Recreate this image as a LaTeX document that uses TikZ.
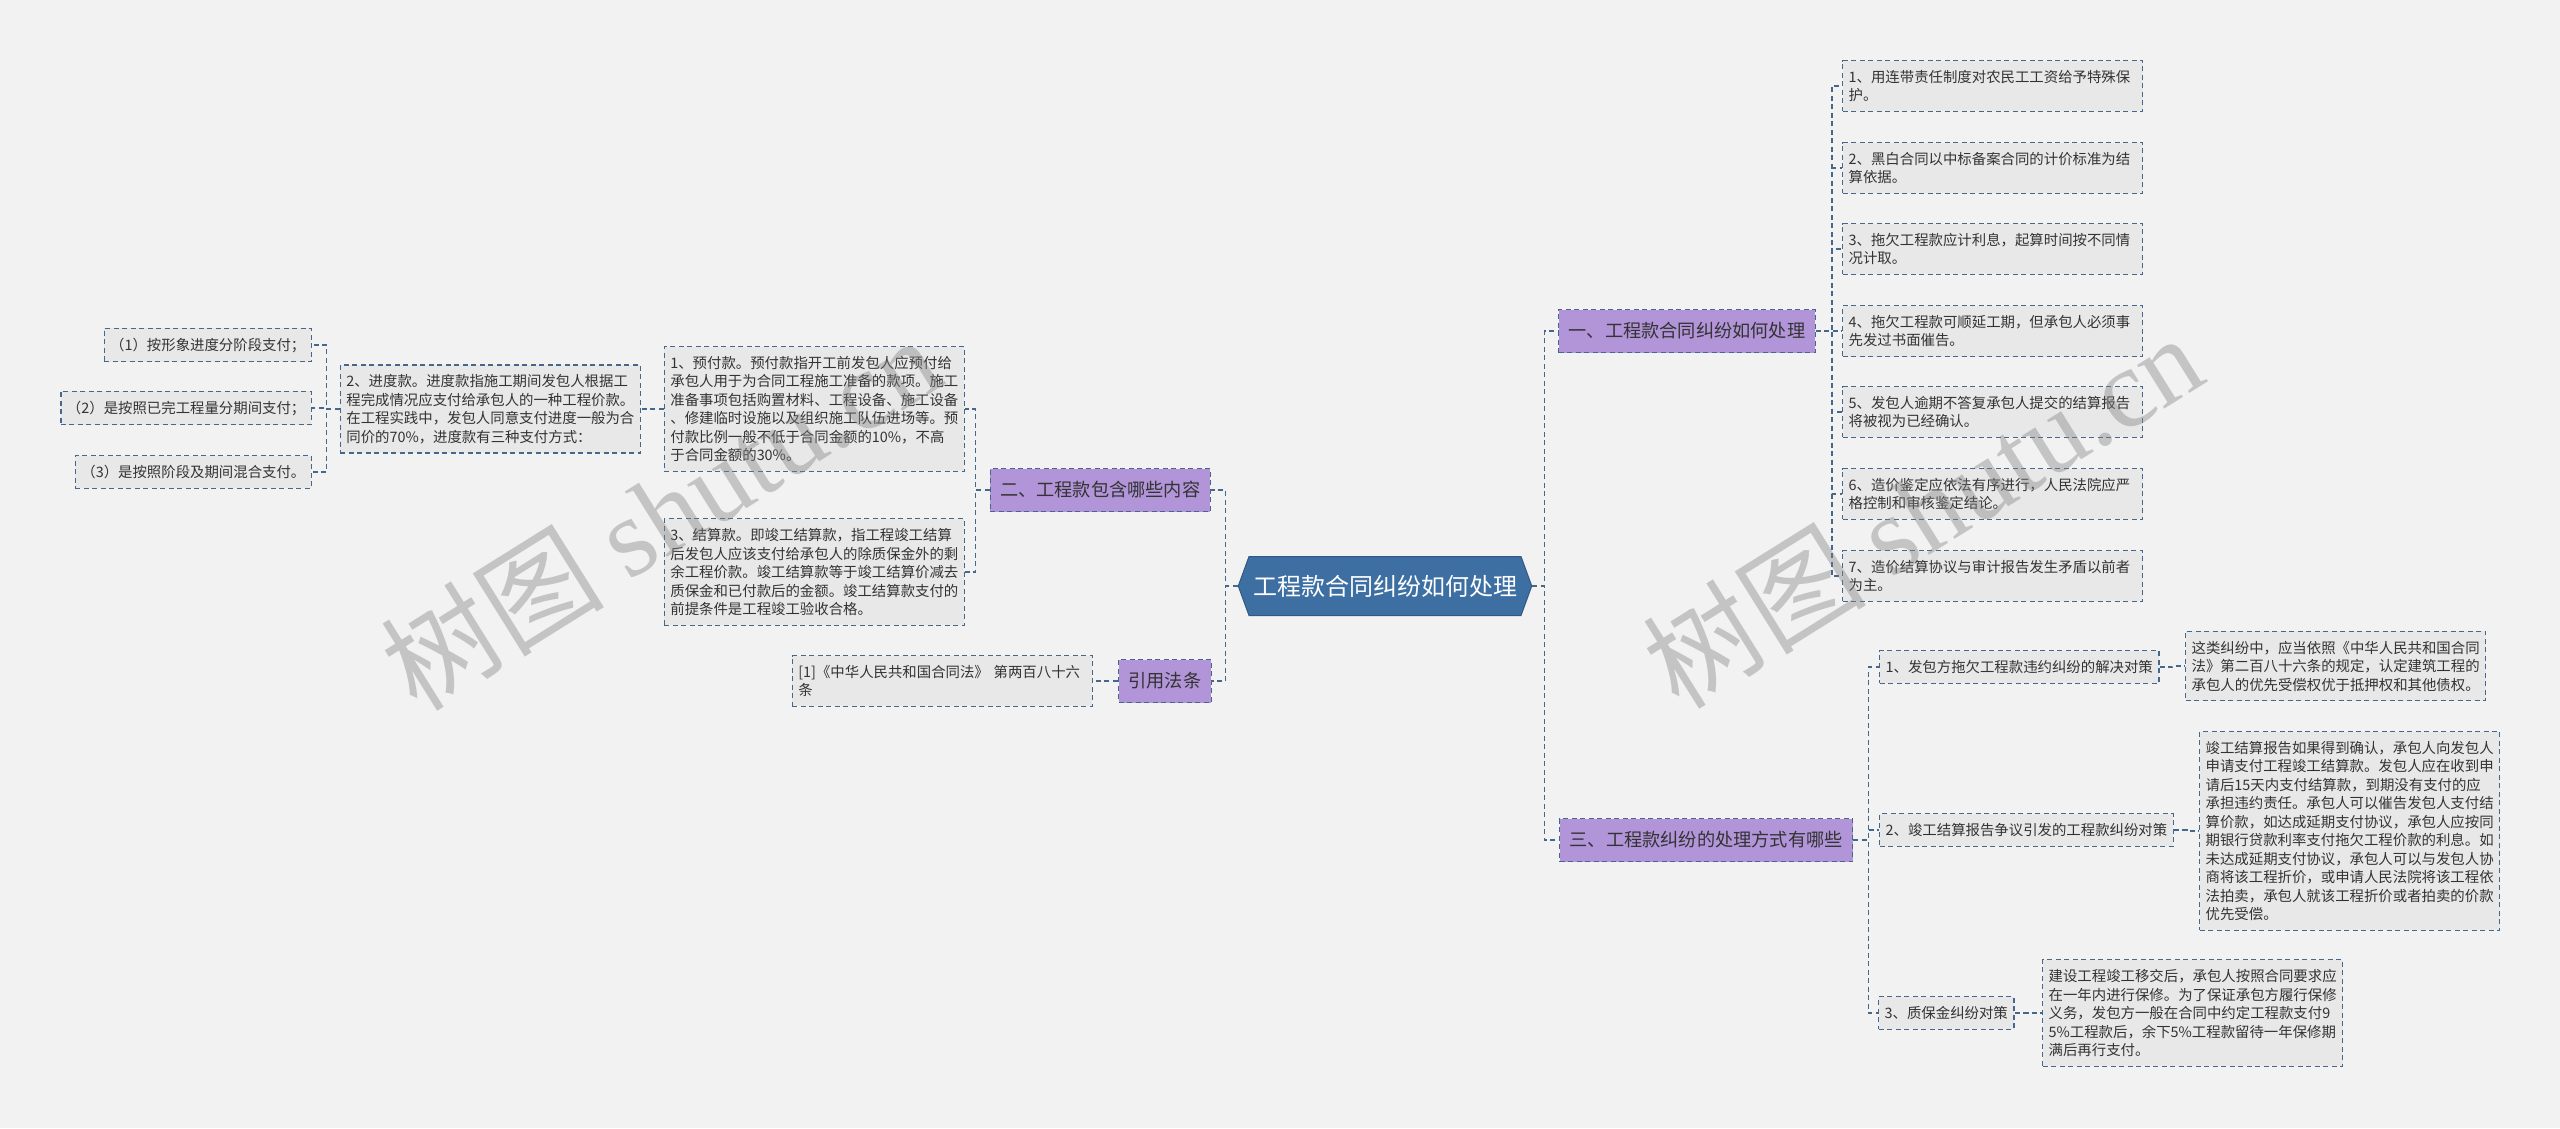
\documentclass[tikz,border=0pt]{standalone}
\usepackage{fontspec}
\setmainfont{Noto Sans CJK SC}
\newfontfamily\wmlatin{Liberation Serif}
\usepackage{tikz}
\usetikzlibrary{shapes.symbols}

\definecolor{bgcolor}{HTML}{F2F2F2}
\definecolor{leafgray}{HTML}{E8E8E8}
\definecolor{linkblue}{HTML}{45678A}
\definecolor{rootblue}{HTML}{3D6FA3}
\definecolor{branchpurple}{HTML}{B294D8}
\definecolor{textgray}{HTML}{333333}

\begin{document}
\begin{tikzpicture}[x=1pt,y=-1pt,
  leaf/.style={draw=linkblue, fill=leafgray, line width=1.3pt, dash pattern=on 5pt off 3.5pt, inner xsep=6pt, inner ysep=9.5pt, text=textgray, font=\fontsize{14.4}{18.5}\selectfont},
  para/.style={leaf, text width=288pt, align=left},
  branch/.style={draw=linkblue, fill=branchpurple, line width=1.3pt, dash pattern=on 5pt off 3.5pt, minimum height=43pt, inner xsep=10pt, inner ysep=0pt, text=textgray, font=\fontsize{18.2}{22}\selectfont},
  rootnode/.style={shape=signal, signal to=east and west, signal pointer angle=140, fill=rootblue, draw=rootblue!80!black, line width=1pt, minimum height=59pt, inner xsep=4pt, text=white, font=\fontsize{24}{28}\selectfont},
  edge/.style={draw=linkblue, line width=1.3pt, dash pattern=on 5pt off 3.5pt},
  watermark/.style={text=gray, text opacity=0.4, font=\fontsize{112}{120}\selectfont}]
\useasboundingbox (0,0) rectangle (2560,1128);
\fill[bgcolor] (0,0) rectangle (2560,1128);

\node (root) [rootnode] at (1385,586) {工程款合同纠纷如何处理};

\node (b1) [branch, anchor=west] at (1558,331) {一、工程款合同纠纷如何处理};
\node (b2) [branch, anchor=east] at (1211,490) {二、工程款包含哪些内容};
\node (b3) [branch, anchor=west] at (1559,840) {三、工程款纠纷的处理方式有哪些};
\node (cite) [branch, anchor=east] at (1212,681) {引用法条};

\node (r1) [para, anchor=west] at (1842,86) {1、用连带责任制度对农民工工资给予特殊保\\护。};
\node (r2) [para, anchor=west] at (1842,168) {2、黑白合同以中标备案合同的计价标准为结\\算依据。};
\node (r3) [para, anchor=west] at (1842,249) {3、拖欠工程款应计利息，起算时间按不同情\\况计取。};
\node (r4) [para, anchor=west] at (1842,331) {4、拖欠工程款可顺延工期，但承包人必须事\\先发过书面催告。};
\node (r5) [para, anchor=west] at (1842,412) {5、发包人逾期不答复承包人提交的结算报告\\将被视为已经确认。};
\node (r6) [para, anchor=west] at (1842,494) {6、造价鉴定应依法有序进行，人民法院应严\\格控制和审核鉴定结论。};
\node (r7) [para, anchor=west] at (1842,576) {7、造价结算协议与审计报告发生矛盾以前者\\为主。};

\node (s1) [leaf, anchor=west] at (1879,667) {1、发包方拖欠工程款违约纠纷的解决对策};
\node (s2) [leaf, anchor=west] at (1879,830) {2、竣工结算报告争议引发的工程款纠纷对策};
\node (s3) [leaf, anchor=west] at (1878,1013) {3、质保金纠纷对策};

\node (d1) [para, anchor=west] at (2185,666) {这类纠纷中，应当依照《中华人民共和国合同\\法》第二百八十六条的规定，认定建筑工程的\\承包人的优先受偿权优于抵押权和其他债权。};
\node (d2) [para, anchor=west] at (2199,831) {竣工结算报告如果得到确认，承包人向发包人\\申请支付工程竣工结算款。发包人应在收到申\\请后15天内支付结算款，到期没有支付的应\\承担违约责任。承包人可以催告发包人支付结\\算价款，如达成延期支付协议，承包人应按同\\期银行贷款利率支付拖欠工程价款的利息。如\\未达成延期支付协议，承包人可以与发包人协\\商将该工程折价，或申请人民法院将该工程依\\法拍卖，承包人就该工程折价或者拍卖的价款\\优先受偿。};
\node (d3) [para, anchor=west] at (2042,1013) {建设工程竣工移交后，承包人按照合同要求应\\在一年内进行保修。为了保证承包方履行保修\\义务，发包方一般在合同中约定工程款支付9\\5\%工程款后，余下5\%工程款留待一年保修期\\满后再行支付。};

\node (pay1) [para, anchor=east] at (965,409) {1、预付款。预付款指开工前发包人应预付给\\承包人用于为合同工程施工准备的款项。施工\\准备事项包括购置材料、工程设备、施工设备\\、修建临时设施以及组织施工队伍进场等。预\\付款比例一般不低于合同金额的10\%，不高\\于合同金额的30\%。};
\node (pay3) [para, anchor=east] at (965,572) {3、结算款。即竣工结算款，指工程竣工结算\\后发包人应该支付给承包人的除质保金外的剩\\余工程价款。竣工结算款等于竣工结算价减去\\质保金和已付款后的金额。竣工结算款支付的\\前提条件是工程竣工验收合格。};
\node (pay2) [para, anchor=east] at (641,409) {2、进度款。进度款指施工期间发包人根据工\\程完成情况应支付给承包人的一种工程价款。\\在工程实践中，发包人同意支付进度一般为合\\同价的70\%，进度款有三种支付方式：};

\node (l1) [leaf, anchor=east] at (312,345) {（1）按形象进度分阶段支付；};
\node (l2) [leaf, anchor=east] at (312,408) {（2）是按照已完工程量分期间支付；};
\node (l3) [leaf, anchor=east] at (312,472) {（3）是按照阶段及期间混合支付。};

\node (law) [para, anchor=east] at (1093,681) {[1]《中华人民共和国合同法》 第两百八十六\\条};

\draw [edge] (root.east) -- ++(12,0) |- (b1.west);
\draw [edge] (root.east) -- ++(12,0) |- (b3.west);
\draw [edge] (root.west) -- ++(-12,0) |- (b2.east);
\draw [edge] (root.west) -- ++(-12,0) |- (cite.east);
\draw [edge] (b1.east) -- ++(16,0) |- (r1.west);
\draw [edge] (b1.east) -- ++(16,0) |- (r2.west);
\draw [edge] (b1.east) -- ++(16,0) |- (r3.west);
\draw [edge] (b1.east) -- ++(16,0) |- (r4.west);
\draw [edge] (b1.east) -- ++(16,0) |- (r5.west);
\draw [edge] (b1.east) -- ++(16,0) |- (r6.west);
\draw [edge] (b1.east) -- ++(16,0) |- (r7.west);
\draw [edge] (b3.east) -- ++(15,0) |- (s1.west);
\draw [edge] (b3.east) -- ++(15,0) |- (s2.west);
\draw [edge] (b3.east) -- ++(15,0) |- (s3.west);
\draw [edge] (s1.east) -- ++(13,0) |- (d1.west);
\draw [edge] (s2.east) -- ++(13,0) |- (d2.west);
\draw [edge] (s3.east) -- ++(13,0) |- (d3.west);
\draw [edge] (b2.west) -- ++(-14,0) |- (pay1.east);
\draw [edge] (b2.west) -- ++(-14,0) |- (pay3.east);
\draw [edge] (pay1.west) -- (pay2.east);
\draw [edge] (pay2.west) -- ++(-13,0) |- (l1.east);
\draw [edge] (pay2.west) -- ++(-13,0) |- (l2.east);
\draw [edge] (pay2.west) -- ++(-13,0) |- (l3.east);
\draw [edge] (cite.west) -- (law.east);

\node (wm1) [watermark, rotate=32] at (660,512) {树图 {\wmlatin shutu.cn}};
\node (wm2) [watermark, rotate=32] at (1922,510) {树图 {\wmlatin shutu.cn}};
\end{tikzpicture}
\end{document}
